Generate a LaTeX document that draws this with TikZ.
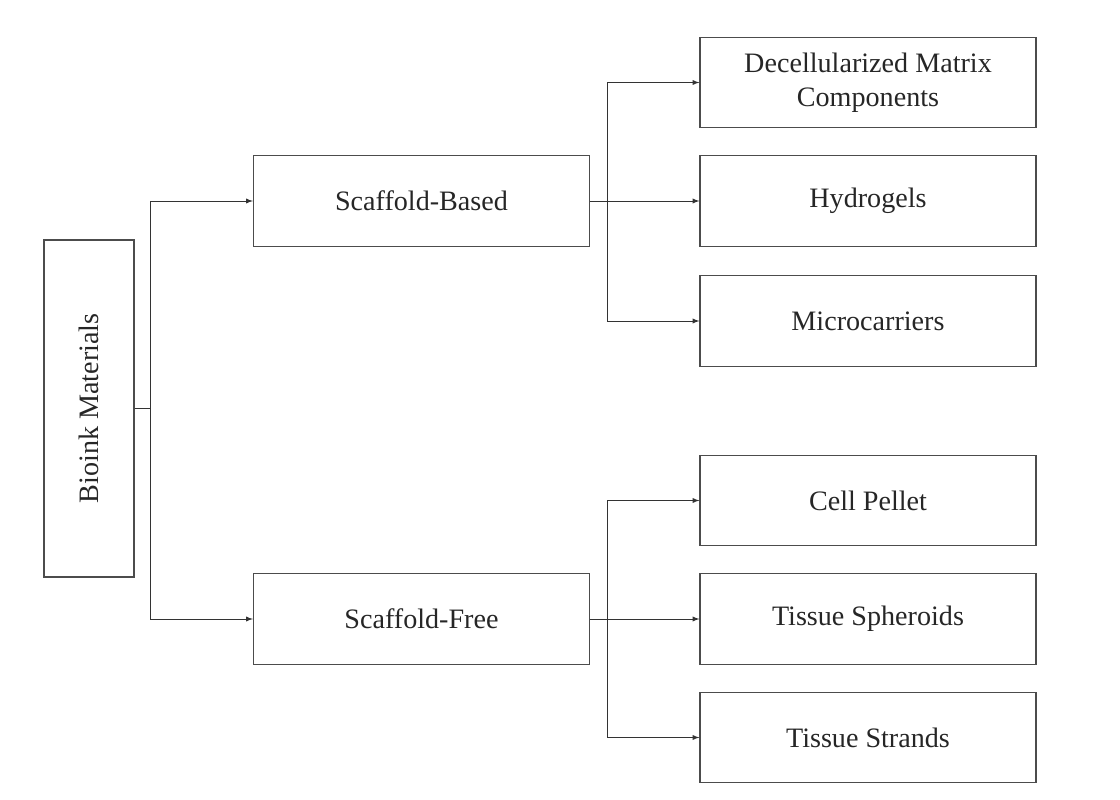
\documentclass[tikz,border=0pt]{standalone}
\usepackage{fontspec}
\setmainfont{Liberation Serif}
\usetikzlibrary{positioning}
\tikzset{
  box/.style={draw=black!70, line width=0.8pt, minimum width=8.4cm, minimum height=2.27cm,
    align=center, font=\fontsize{20}{24}\selectfont, text=black!85},
  link/.style={draw=black!80, line width=0.7pt, -latex}
}
\begin{document}
\begin{tikzpicture}[x=0.025cm, y=-0.025cm]
  \useasboundingbox (0,0) rectangle (1120,800);

  % left side
  \node[box, rotate=90, minimum width=8.42cm, minimum height=2.25cm] (bioink) at (89,408.5) {Bioink Materials};
  \node[box] (based) at (421.5,201) {Scaffold-Based};
  \node[box] (free) at (421.5,619) {Scaffold-Free};

  % right side
  \node[box] (decell) at (868,82.5) {Decellularized Matrix\\Components};
  \node[box] (hydro) at (868,201) {Hydrogels};
  \node[box] (micro) at (868,321) {Microcarriers};
  \node[box] (pellet) at (868,500.5) {Cell Pellet};
  \node[box] (spher) at (868,619) {Tissue Spheroids};
  \node[box] (strand) at (868,737.5) {Tissue Strands};

  \coordinate (j0) at (150,408.5);
  \coordinate (j1) at (607,201);
  \coordinate (j2) at (607,619);

  \draw[black!80, line width=0.7pt] (bioink.south) -- (j0);
  \draw[link] (j0) |- (based);
  \draw[link] (j0) |- (free);

  \draw[black!80, line width=0.7pt] (based) -- (j1);
  \draw[link] (j1) |- (decell);
  \draw[link] (j1) -- (hydro);
  \draw[link] (j1) |- (micro);

  \draw[black!80, line width=0.7pt] (free) -- (j2);
  \draw[link] (j2) |- (pellet);
  \draw[link] (j2) -- (spher);
  \draw[link] (j2) |- (strand);
\end{tikzpicture}
\end{document}
